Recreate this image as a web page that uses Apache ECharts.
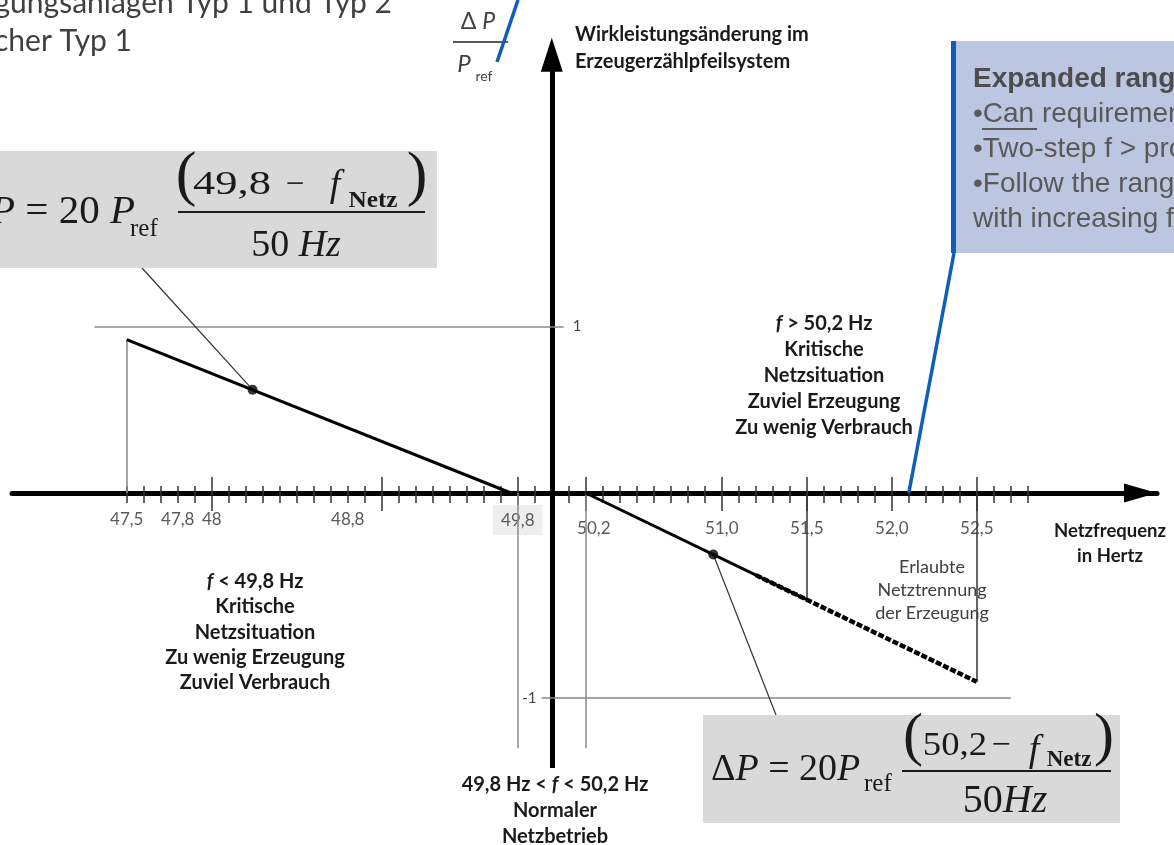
<!DOCTYPE html>
<html>
<head>
<meta charset="utf-8">
<script src="https://cdn.jsdelivr.net/npm/echarts@6/dist/echarts.min.js"></script>
<style>
html, body { margin: 0; padding: 0; background: #fff; }
#main { width: 1174px; height: 845px; }
</style>
</head>
<body>
<div id="main"></div>
<script>
// Frequenzachse (Hz): beschriftete Striche, lange Striche, kurze Striche
var tickValues = [47.5, 47.8, 48, 48.8, 49.8, 50.2, 51, 51.5, 52, 52.5];
var tickLabels = ['47,5', '47,8', '48', '48,8', '49,8', '50,2', '51,0', '51,5', '52,0', '52,5'];
var majorTicks = [48, 49, 49.8, 50.2, 51, 51.5, 52, 52.5];
var minorTicks = [];
for (var t = 475; t <= 528; t++) minorTicks.push(t / 10);

// Kennlinie Unterfrequenz [f, dP/Pref]
var underFreq = [[47.5, 0.92], [49.76, 0]];
var underPoint = [[48.24, 0.62]];
// Kennlinie Ueberfrequenz
var overFreq = [[50.2, 0], [51.5, -0.52]];
var overFreqDashed = [[51.2, -0.40], [52.5, -0.92]];
var overPoint = [[50.95, -0.30]];

// Texte
var noteOver = ['Kritische', 'Netzsituation', 'Zuviel Erzeugung', 'Zu wenig Verbrauch'];
var noteUnder = ['Kritische', 'Netzsituation', 'Zu wenig Erzeugung', 'Zuviel Verbrauch'];
var noteNormal = ['Normaler', 'Netzbetrieb'];
var noteTrip = ['Erlaubte', 'Netztrennung', 'der Erzeugung'];
var boxLines = ['•Can requirements', '•Two-step f > protection', '•Follow the range', 'with increasing frequency'];

var SANS = 'Lato, "Open Sans", sans-serif';
var ARIAL = '"Liberation Sans", Arial, sans-serif';
var SERIF = '"Liberation Serif", "Times New Roman", serif';
var BLUE = '#0f5fb8';

var myChart = echarts.init(document.getElementById('main'));

function rs(size, family, extra) {
    var s = { fontSize: size, fontFamily: family, fill: '#1a1a1a', color: '#1a1a1a' };
    for (var k in extra) s[k] = extra[k];
    return s;
}

// ein Textelement (graphic)
function txt(x, y, text, o) {
    o = o || {};
    var st = {
        text: text,
        fill: o.color || '#1a1a1a',
        fontSize: o.size || 20,
        fontFamily: o.family || SANS,
        fontWeight: o.weight || 'normal',
        fontStyle: o.italic ? 'italic' : 'normal',
        align: o.align || 'center', textAlign: o.align || 'center',
        verticalAlign: 'middle', textVerticalAlign: 'middle'
    };
    if (o.rich) st.rich = o.rich;
    return { type: 'text', x: x, y: y, z: 20, scaleX: o.scaleX || 1, style: st };
}

function textLines(x, y0, dy, lines, o) {
    return lines.map(function (s, i) { return txt(x, y0 + i * dy, s, o); });
}

function line(x1, y1, x2, y2, color, w) {
    return { type: 'line', z: 15, shape: { x1: x1, y1: y1, x2: x2, y2: y2 },
        style: { stroke: color, lineWidth: w } };
}

function rect(x, y, w, h, color) {
    return { type: 'rect', z: 10, shape: { x: x, y: y, width: w, height: h }, style: { fill: color } };
}

var noteRich = {
    b: rs(20, SANS, { fontWeight: 'bold' }),
    i: rs(20, SANS, { fontWeight: 'bold', fontStyle: 'italic' })
};
var noteOpt = { size: 20, weight: 'bold' };
var mathRich = function (size) {
    return { a: rs(size, SERIF, {}), b: rs(size, SERIF, { fontStyle: 'italic' }) };
};

function tickLabel(v) {
    var i = -1;
    tickValues.forEach(function (x, k) { if (Math.abs(x - v) < 1e-6) i = k; });
    if (i < 0) return '';
    var s = tickLabels[i];
    if (Math.abs(v - 49.8) < 1e-6) return '{g|' + s + '}';
    if (Math.abs(v - 50.2) < 1e-6) return '{s|' + s + '}';
    if (v > 50) return '{r|' + s + '}';
    return '{l|' + s + '}';
}

var labelStyle = { fontSize: 17, fontFamily: SANS, color: '#595959' };
function ls(extra) {
    var s = {};
    for (var k in labelStyle) s[k] = labelStyle[k];
    for (var j in extra) s[j] = extra[j];
    return s;
}

var X_MIN = 46.825, X_MAX = 53.56;

function freqAxis(grid, pos, ticks, len) {
    return {
        type: 'value', gridIndex: grid, position: pos, min: X_MIN, max: X_MAX,
        axisLine: { show: false, onZero: false },
        axisTick: { show: true, customValues: ticks, inside: true, length: len,
            lineStyle: { color: '#333', width: 1.5 } },
        axisLabel: { show: false },
        splitLine: { show: false }
    };
}

var mainX = freqAxis(0, 'bottom', minorTicks, 7);
mainX.axisLine = {
    show: true, onZero: false,
    lineStyle: { color: '#000', width: 5 },
    symbol: ['none', 'triangle'], symbolSize: [19, 33], symbolOffset: [0, -16.5]
};
mainX.axisLabel = {
    show: true, customValues: tickValues, formatter: tickLabel,
    margin: 27, verticalAlign: 'middle',
    fontSize: 17, fontFamily: SANS, color: '#595959',
    rich: {
        l: ls({}),
        r: ls({ padding: [18, 0, 0, 0] }),
        s: ls({ padding: [18, 0, 0, 16] }),
        g: ls({ backgroundColor: '#eeeeee', padding: [7, 8, 6, 8] })
    }
};

var gray = { color: '#888', width: 1.5, type: 'solid' };
var dark = { color: '#333', width: 1.5, type: 'solid' };
var pointer = { color: '#333', width: 1.2, type: 'solid' };
var axisStyle = { color: '#000', width: 5, type: 'solid' };

var option = {
    backgroundColor: '#fff',
    animation: false,
    grid: [
        { left: 12, right: 17, top: 38, height: 455, outerBoundsMode: 'none' },
        { left: 12, right: 17, top: 493, height: 275, outerBoundsMode: 'none' }
    ],
    xAxis: [
        mainX,
        freqAxis(1, 'top', minorTicks, 10),
        freqAxis(0, 'bottom', majorTicks, 16),
        freqAxis(1, 'top', majorTicks, 18)
    ],
    yAxis: [
        { type: 'value', gridIndex: 0, min: 0, max: 2.73, show: false },
        { type: 'value', gridIndex: 1, min: -1.34, max: 0, show: false }
    ],
    series: [
        {
            name: 'Unterfrequenz', type: 'line', xAxisIndex: 0, yAxisIndex: 0,
            data: underFreq, symbol: 'none', z: 5,
            lineStyle: { color: '#000', width: 3 },
            markLine: {
                silent: true, animation: false, symbol: ['none', 'none'],
                label: { show: false }, lineStyle: { type: 'solid' },
                data: [
                    // Ordinate oben mit Pfeil
                    [{ coord: [50, 0], lineStyle: axisStyle },
                     { coord: [50, 2.63], symbol: 'triangle', symbolSize: [22, 34] }],
                    // Linie bei 1
                    [{ coord: [47.31, 1], lineStyle: gray },
                     { coord: [50.07, 1], label: { show: true, position: 'end', distance: 9,
                        formatter: '1', fontSize: 15, fontFamily: SANS, color: '#404040' } }],
                    [{ coord: [47.5, 0.92], lineStyle: gray }, { coord: [47.5, 0] }],
                    // Zeiger zur Formel
                    [{ coord: underPoint[0], lineStyle: pointer }, { x: 142, y: 268 }]
                ]
            }
        },
        {
            name: 'Punkt unten', type: 'scatter', xAxisIndex: 0, yAxisIndex: 0,
            data: underPoint, symbolSize: 10, itemStyle: { color: '#000' }, z: 6
        },
        {
            name: 'Ueberfrequenz', type: 'line', xAxisIndex: 1, yAxisIndex: 1,
            data: overFreq, symbol: 'none', z: 5,
            lineStyle: { color: '#000', width: 3 },
            markLine: {
                silent: true, animation: false, symbol: ['none', 'none'],
                label: { show: false }, lineStyle: { type: 'solid' },
                data: [
                    [{ coord: [50, 0], lineStyle: axisStyle }, { coord: [50, -1.34] }],
                    [{ coord: [49.8, 0], lineStyle: gray }, { coord: [49.8, -1.244] }],
                    [{ coord: [50.2, 0], lineStyle: gray }, { coord: [50.2, -1.244] }],
                    [{ coord: [51.5, 0], lineStyle: dark }, { coord: [51.5, -0.52] }],
                    [{ coord: [52.5, 0], lineStyle: dark }, { coord: [52.5, -0.92] }],
                    // Linie bei -1
                    [{ coord: [49.94, -1], lineStyle: gray, label: { show: true, position: 'start', distance: 5,
                        formatter: '-1', fontSize: 15, fontFamily: SANS, color: '#404040' } },
                     { coord: [52.70, -1] }],
                    [{ coord: overPoint[0], lineStyle: pointer }, { x: 776, y: 715 }],
                    [{ coord: [52.1, 0], lineStyle: { color: BLUE, width: 3.5, type: 'solid' } }, { x: 954, y: 253 }]
                ]
            }
        },
        {
            name: 'Ueberfrequenz gestrichelt', type: 'line', xAxisIndex: 1, yAxisIndex: 1,
            data: overFreqDashed, symbol: 'none', z: 5,
            lineStyle: { color: '#000', width: 4.5, type: [6, 2] }
        },
        {
            name: 'Punkt oben', type: 'scatter', xAxisIndex: 1, yAxisIndex: 1,
            data: overPoint, symbolSize: 10, itemStyle: { color: '#000' }, z: 6
        }
    ],
    graphic: {
        elements: [].concat(
            // Folientitel (angeschnitten)
            [txt(392, 3, 'Erzeugungsanlagen Typ 1 und Typ 2', { size: 30, align: 'right', color: '#404040' }),
             txt(132, 41, 'Speicher Typ 1', { size: 30, align: 'right', color: '#404040' })],
            // dP / Pref
            [txt(478, 22, '{a|Δ }{b|P}', { rich: {
                a: rs(23, SANS, { fill: '#404040' }), b: rs(23, SANS, { fill: '#404040', fontStyle: 'italic' }) } }),
             line(453, 42, 508, 42, '#595959', 2),
             txt(464, 64, 'P', { size: 24, italic: true, color: '#404040' }),
             txt(484, 76, 'ref', { size: 14, color: '#404040' }),
             line(497, 62, 518, 0, BLUE, 3.5)],
            textLines(575, 35, 27, ['Wirkleistungsänderung im', 'Erzeugerzählpfeilsystem'],
                { size: 20, weight: 'bold', align: 'left' }),
            // blauer Kasten
            [rect(951, 41, 240, 212, '#bdc6e0'), rect(951, 41, 5, 212, BLUE),
             txt(973, 79, 'Expanded range', { size: 28, family: ARIAL, weight: 'bold', align: 'left', color: '#4d4d4d' })],
            textLines(973, 114, 35, boxLines, { size: 28, family: ARIAL, align: 'left', color: '#595959' }),
            [line(982, 129, 1037, 129, '#595959', 2)],
            // Bereiche
            [txt(824, 324, '{i|f}{b| > 50,2 Hz}', { rich: noteRich })],
            textLines(824, 350, 25.7, noteOver, noteOpt),
            [txt(255, 582, '{i|f}{b| < 49,8 Hz}', { rich: noteRich })],
            textLines(255, 607, 25.3, noteUnder, noteOpt),
            [txt(555, 785, '{b|49,8 Hz < }{i|f}{b| < 50,2 Hz}', { rich: noteRich })],
            textLines(555, 811, 26, noteNormal, noteOpt),
            textLines(1110, 531, 25, ['Netzfrequenz', 'in Hertz'], { size: 18.5, weight: 'bold' }),
            textLines(932, 567, 23, noteTrip, { size: 18, color: '#404040' }),
            // Formel links
            [rect(-2, 151, 439, 117, '#d9d9d9'),
             txt(135, 212, '{a|Δ}{b|P}{a| = 20 }{b|P}', { align: 'right', rich: mathRich(41) }),
             txt(130, 229, 'ref', { size: 25, family: SERIF, align: 'left' }),
             txt(186, 178, '(', { size: 62, family: SERIF }),
             txt(232, 185, '49,8', { size: 33, family: SERIF, scaleX: 1.35 }),
             txt(295, 185, '−', { size: 33, family: SERIF }),
             txt(335, 186, 'f', { size: 38, family: SERIF, italic: true }),
             txt(373, 201, 'Netz', { size: 23, family: SERIF, weight: 'bold', scaleX: 1.1 }),
             txt(417, 178, ')', { size: 62, family: SERIF }),
             line(178, 212, 425, 212, '#1a1a1a', 2),
             txt(296, 246, '{a|50 }{b|Hz}', { rich: mathRich(38) })],
            // Formel rechts
            [rect(703, 715, 417, 108, '#d9d9d9'),
             txt(711, 770, '{a|Δ}{b|P}{a| = 20}{b|P}', { align: 'left', rich: mathRich(38) }),
             txt(864, 784, 'ref', { size: 25, family: SERIF, align: 'left' }),
             txt(913, 738, '(', { size: 60, family: SERIF }),
             txt(955, 746, '50,2', { size: 34, family: SERIF, scaleX: 1.08 }),
             txt(1001, 746, '−', { size: 34, family: SERIF }),
             txt(1034, 751, 'f', { size: 38, family: SERIF, italic: true }),
             txt(1069, 760, 'Netz', { size: 23, family: SERIF, weight: 'bold' }),
             txt(1104, 738, ')', { size: 60, family: SERIF }),
             line(902, 771, 1111, 771, '#1a1a1a', 2),
             txt(1005, 801, '{a|50}{b|Hz}', { rich: mathRich(40) })]
        )
    }
};

myChart.setOption(option);
</script>
</body>
</html>
